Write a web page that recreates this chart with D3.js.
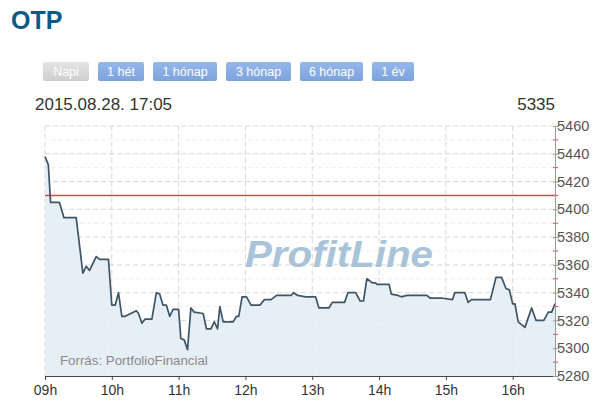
<!DOCTYPE html>
<html>
<head>
<meta charset="utf-8">
<script src="https://cdn.jsdelivr.net/npm/d3@7"></script>
<style>
  body { margin: 0; background: #fff; font-family: "Liberation Sans", Arial, sans-serif; }
  svg text { font-family: "Liberation Sans", Arial, sans-serif; }
</style>
</head>
<body>
<div id="chart"></div>
<script>
// price data (2015.08.28)
const times = ["09:00","09:03","09:05","09:13","09:17","09:28","09:34","09:37","09:40","09:46",
  "09:49","09:57","10:00","10:03","10:06","10:09","10:12","10:22","10:24","10:27",
  "10:30","10:36","10:40","10:43","10:46","10:49","10:52","10:55","11:00","11:02",
  "11:05","11:08","11:11","11:14","11:22","11:25","11:29","11:32","11:35","11:37",
  "11:40","11:49","11:52","11:54","11:57","12:01","12:05","12:13","12:17","12:23",
  "12:28","12:41","12:43","12:47","12:54","13:03","13:06","13:15","13:18","13:29",
  "13:32","13:39","13:43","13:46","13:49","13:54","13:57","13:58","14:09","14:11",
  "14:17","14:20","14:25","14:43","14:46","14:57","15:06","15:08","15:17","15:20",
  "15:23","15:40","15:45","15:50","15:54","15:57","16:00","16:02","16:05","16:11",
  "16:17","16:21","16:28","16:32","16:35","16:38"];
const prices = [5438,5432,5405,5405,5394,5394,5354,5359,5356,5366,
  5364,5364,5331,5331,5340,5323,5323,5327,5325,5318,
  5321,5321,5340,5339,5331,5331,5323,5328,5328,5307,
  5306,5299,5329,5326,5325,5314,5314,5319,5314,5330,
  5319,5319,5323,5323,5337,5337,5331,5331,5335,5335,
  5338,5338,5340,5338,5337,5337,5329,5329,5333,5333,
  5340,5340,5334,5334,5350,5347,5347,5346,5346,5339,
  5338,5337,5338,5338,5336,5336,5335,5340,5340,5333,
  5335,5335,5351,5351,5343,5342,5332,5332,5319,5315,
  5329,5320,5320,5326,5326,5332];
const refPrice = 5410;
const yTicks = [5280,5300,5320,5340,5360,5380,5400,5420,5440,5460];
const yMinor = [5290,5310,5330,5350,5370,5390,5410,5430,5450];
const buttons = ["Napi","1 hét","1 hónap","3 hónap","6 hónap","1 év"];
const lastLabel = "2015.08.28. 17:05";
const lastPrice = "5335";

const w = 611, h = 417;
const pLeft = 45, pRight = 555, pTop = 126, pBottom = 376;

const parse = d3.timeParse("%Y-%m-%d %H:%M");
const day = "2015-08-28 ";
const data = times.map((t, i) => ({ t: parse(day + t), v: prices[i] }));

const xScale = d3.scaleTime()
  .domain([parse(day + "09:00"), parse(day + "16:38")])
  .range([pLeft, pRight]);
const yScale = d3.scaleLinear().domain([5280, 5460]).range([pBottom, pTop]);

const svg = d3.select("#chart").append("svg").attr("width", w).attr("height", h);

const defs = svg.append("defs");
const gBlue = defs.append("linearGradient").attr("id", "btnBlue").attr("x1", 0).attr("y1", 0).attr("x2", 0).attr("y2", 1);
gBlue.append("stop").attr("offset", 0).attr("stop-color", "#96b7ea");
gBlue.append("stop").attr("offset", 1).attr("stop-color", "#7ca2de");
const gGray = defs.append("linearGradient").attr("id", "btnGray").attr("x1", 0).attr("y1", 0).attr("x2", 0).attr("y2", 1);
gGray.append("stop").attr("offset", 0).attr("stop-color", "#e4e4e4");
gGray.append("stop").attr("offset", 1).attr("stop-color", "#cecece");

// title
svg.append("text").attr("x", 11).attr("y", 29)
  .attr("font-size", 25).attr("font-weight", "bold").attr("fill", "#0b5a85").text("OTP");

// period buttons
const btnX = [43, 98, 153, 226, 300, 372];
const btnW = [46, 46, 64, 65, 63, 42];
const btn = svg.selectAll(".btn").data(buttons).enter().append("g").attr("class", "btn")
  .attr("transform", (d, i) => `translate(${btnX[i]},62)`);
btn.append("rect").attr("width", (d, i) => btnW[i]).attr("height", 19).attr("rx", 2)
  .attr("fill", (d, i) => i === 0 ? "url(#btnGray)" : "url(#btnBlue)");
btn.append("text").attr("x", (d, i) => btnW[i] / 2).attr("y", 14)
  .attr("text-anchor", "middle").attr("font-size", 12.5).attr("fill", "#fff").text(d => d);

svg.append("text").attr("x", 35).attr("y", 110).attr("font-size", 17).attr("fill", "#333").text(lastLabel);
svg.append("text").attr("x", 555).attr("y", 110).attr("text-anchor", "end")
  .attr("font-size", 17).attr("fill", "#333").text(lastPrice);

// grid
const hours = d3.timeHour.range(parse(day + "09:00"), parse(day + "16:39"));
svg.append("g").selectAll("line").data(yMinor).enter().append("line")
  .attr("x1", pLeft).attr("x2", pRight).attr("y1", d => yScale(d)).attr("y2", d => yScale(d))
  .attr("stroke", "#eeeeee").attr("stroke-dasharray", "4,3");
svg.append("g").selectAll("line").data(yTicks).enter().append("line")
  .attr("x1", pLeft).attr("x2", pRight).attr("y1", d => yScale(d)).attr("y2", d => yScale(d))
  .attr("stroke", "#d8d8d8").attr("stroke-dasharray", "5,3");
svg.append("g").selectAll("line").data(hours).enter().append("line")
  .attr("x1", d => xScale(d)).attr("x2", d => xScale(d)).attr("y1", pTop).attr("y2", pBottom)
  .attr("stroke", "#d8d8d8").attr("stroke-dasharray", "5,3");

// area + line
const area = d3.area().x(d => xScale(d.t)).y0(pBottom).y1(d => yScale(d.v));
svg.append("path").datum(data).attr("d", area).attr("fill", "#e3ecf5").attr("fill-opacity", 0.85);

// watermark
svg.append("text").attr("x", 245).attr("y", 267)
  .attr("font-size", 36).attr("font-weight", "bold").attr("font-style", "italic")
  .attr("textLength", 188).attr("lengthAdjust", "spacingAndGlyphs")
  .attr("fill", "#a9c4d8").text("ProfitLine");

svg.append("text").attr("x", 60).attr("y", 365).attr("font-size", 13.3).attr("fill", "#8a8a8a")
  .text("Forrás: PortfolioFinancial");

// reference line
svg.append("line").attr("x1", pLeft).attr("x2", pRight)
  .attr("y1", yScale(refPrice)).attr("y2", yScale(refPrice))
  .attr("stroke", "#d24a4a").attr("stroke-width", 1.5);

const line = d3.line().x(d => xScale(d.t)).y(d => yScale(d.v));
svg.append("path").datum(data).attr("d", line).attr("fill", "none")
  .attr("stroke", "#3e5566").attr("stroke-width", 1.7).attr("stroke-linejoin", "round");

// axes
const xAxis = d3.axisBottom(xScale).tickValues(hours).tickFormat(d3.timeFormat("%Hh"))
  .tickSizeInner(4).tickSizeOuter(0);
const gx = svg.append("g").attr("transform", `translate(0,${pBottom})`).call(xAxis);
gx.select(".domain").attr("stroke", "#444");
gx.selectAll(".tick line").attr("stroke", "#444");
gx.selectAll("text").attr("font-size", 14).attr("fill", "#333").attr("y", 7).attr("dy", "0.85em");

svg.append("g").attr("transform", `translate(${pRight},0)`)
  .selectAll("line").data(yMinor).enter().append("line")
  .attr("x1", -2).attr("x2", 3).attr("y1", d => yScale(d)).attr("y2", d => yScale(d))
  .attr("stroke", "#d24a4a");
const yAxis = d3.axisRight(yScale).tickValues(yTicks).tickFormat(d3.format("d"))
  .tickSizeInner(4).tickSizeOuter(0);
const gy = svg.append("g").attr("transform", `translate(${pRight},0)`).call(yAxis);
gy.select(".domain").attr("stroke", "#999");
gy.selectAll(".tick line").attr("stroke", "#999").attr("x1", -2);
gy.selectAll("text").attr("font-size", 14.5).attr("fill", "#555").attr("x", 2);
</script>
</body>
</html>
